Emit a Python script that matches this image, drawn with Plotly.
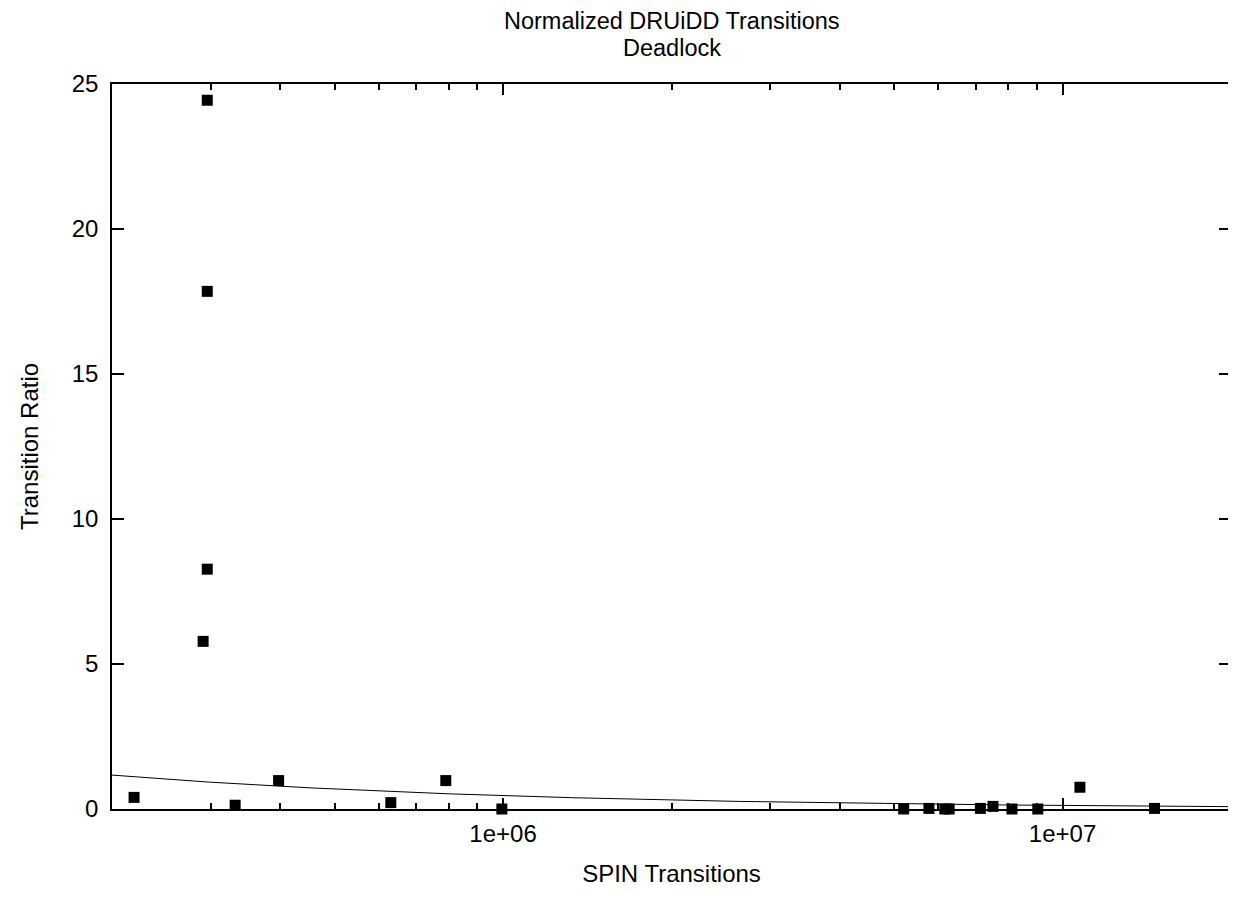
import numpy as np
import plotly.graph_objects as go

# ---- data ----
spin_transitions = [2.19e5, 2.96e5, 2.96e5, 2.96e5, 2.91e5, 3.32e5, 3.97e5, 6.3e5, 7.9e5, 9.95e5,
                    5.2e6, 5.77e6, 6.16e6, 6.27e6, 7.13e6, 7.51e6, 8.12e6, 9.03e6, 1.074e7, 1.46e7]
transition_ratio = [0.40, 24.44, 17.85, 8.27, 5.78, 0.13, 0.98, 0.22, 0.98, 0.0,
                    0.0, 0.02, 0.0, 0.0, 0.02, 0.09, 0.0, 0.0, 0.75, 0.02]

# power-law fit  f(x) = FIT_A * x ** FIT_B  (as drawn in the reference)
FIT_A = 1389.0
FIT_B = -0.58

x_range = [2e5, 2e7]
y_range = [0, 25]
x_tickvals = [1e6, 1e7]
x_ticktext = ["1e+06", "1e+07"]

title_lines = ["Normalized DRUiDD Transitions", "Deadlock"]
x_title = "SPIN Transitions"
y_title = "Transition Ratio"

FONT = "Liberation Sans, Arial, sans-serif"
FS = 24
TFS = 23.5

fit_x = np.logspace(np.log10(x_range[0]), np.log10(x_range[1]), 300)
fit_y = FIT_A * fit_x ** FIT_B

fig = go.Figure()
fig.add_trace(go.Scatter(x=fit_x, y=fit_y, mode="lines",
                         line=dict(color="black", width=1), hoverinfo="skip",
                         showlegend=False))
fig.add_trace(go.Scatter(x=spin_transitions, y=transition_ratio, mode="markers",
                         marker=dict(symbol="square", size=11, color="black",
                                     line=dict(width=0)),
                         cliponaxis=False, showlegend=False))

# the page body has an 8px margin, so the figure is shrunk/shifted accordingly
W, H = 1228, 890
L, R, T, B = 104, 5, 76, 89
ph = H - T - B

def ypaper(py):
    return 1 + (T - py) / ph

annotations = [
    dict(text=title_lines[0], x=0.5, xref="paper", y=ypaper(13.4), yref="paper",
         xanchor="center", yanchor="middle", showarrow=False,
         font=dict(family=FONT, size=TFS, color="black")),
    dict(text=title_lines[1], x=0.5, xref="paper", y=ypaper(39.9), yref="paper",
         xanchor="center", yanchor="middle", showarrow=False,
         font=dict(family=FONT, size=TFS, color="black")),
]

fig.update_layout(
    width=W, height=H,
    margin=dict(l=L, r=R, t=T, b=B, autoexpand=False),
    paper_bgcolor="white", plot_bgcolor="white",
    font=dict(family=FONT, size=FS, color="black"),
    annotations=annotations,
)
fig.update_xaxes(
    type="log", range=[np.log10(x_range[0]), np.log10(x_range[1])],
    tickvals=x_tickvals, ticktext=x_ticktext,
    ticks="inside", ticklen=11, tickwidth=1.5, tickcolor="black",
    minor=dict(ticks="inside", ticklen=6, tickwidth=1.5, tickcolor="black", dtick="D1", showgrid=False),
    showline=True, linecolor="black", linewidth=1.5, mirror="allticks",
    showgrid=False, zeroline=False, ticklabelstandoff=2,
    title=dict(text=x_title, standoff=20, font=dict(family=FONT, size=FS)),
    tickfont=dict(family=FONT, size=FS),
)
fig.update_yaxes(
    range=y_range, dtick=5, tick0=0,
    ticks="inside", ticklen=12, tickwidth=1.5, tickcolor="black",
    showline=True, linecolor="black", linewidth=1.5, mirror="allticks",
    showgrid=False, zeroline=False, ticklabelstandoff=7,
    title=dict(text=y_title, standoff=26, font=dict(family=FONT, size=FS)),
    tickfont=dict(family=FONT, size=FS),
)

fig.write_html("out.html")
